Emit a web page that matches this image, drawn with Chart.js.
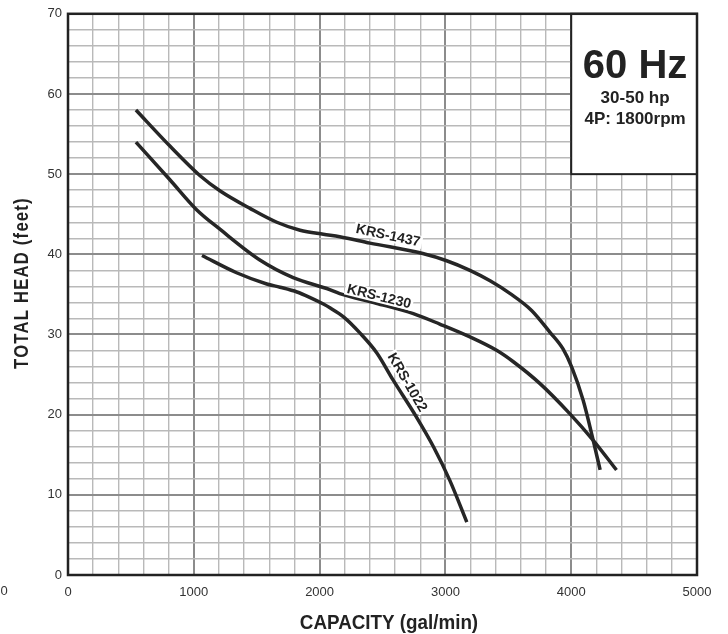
<!DOCTYPE html>
<html>
<head>
<meta charset="utf-8">
<script src="https://cdn.jsdelivr.net/npm/chart.js@4"></script>
<style>
  html, body { margin: 0; padding: 0; background: #fff; }
  #wrap { width: 728px; height: 634px; }
</style>
</head>
<body>
<div id="wrap"><canvas id="pumpChart" width="728" height="634"></canvas></div>
<script>
// curve data (capacity gal/min, head feet)
const krs1437X = [540, 810, 1050, 1210, 1450, 1660, 1845, 2030, 2160, 2400, 2820, 3010, 3195, 3355, 3515, 3685, 3830, 3935, 4005, 4095, 4175, 4230];
const krs1437Y = [58.0, 53.5, 49.8, 47.9, 45.7, 44.0, 43.0, 42.5, 42.2, 41.4, 40.1, 39.2, 38.0, 36.7, 35.1, 33.0, 30.3, 28.2, 25.9, 21.8, 16.8, 13.1];

const krs1230X = [540, 810, 1020, 1210, 1525, 1790, 2080, 2160, 2450, 2745, 2955, 3195, 3410, 3540, 3750, 3990, 4175, 4360];
const krs1230Y = [54.0, 49.3, 45.6, 43.1, 39.3, 37.1, 35.6, 35.1, 33.9, 32.6, 31.3, 29.7, 28.0, 26.6, 23.9, 20.1, 16.8, 13.1];

const krs1022X = [1065, 1340, 1580, 1685, 1820, 1925, 2030, 2085, 2190, 2320, 2455, 2585, 2770, 2905, 3035, 3170];
const krs1022Y = [39.85, 37.7, 36.3, 35.9, 35.3, 34.6, 33.8, 33.3, 32.2, 30.2, 27.7, 24.3, 19.7, 16.0, 11.8, 6.6];

const seriesNames = ['KRS-1437', 'KRS-1230', 'KRS-1022'];
const xTicks = [0, 1000, 2000, 3000, 4000, 5000];
const yTicks = [0, 10, 20, 30, 40, 50, 60, 70];

const boxTitle = '60 Hz';
const boxLines = ['30-50 hp', '4P: 1800rpm'];
const xTitle = 'CAPACITY (gal/min)';
const yTitle = 'TOTAL HEAD (feet)';

function toPoints(xs, ys) {
  return xs.map((x, i) => ({x: x, y: ys[i]}));
}

const lineColor = '#262626';

// label placements for the curve names: data position + angle (deg)
const curveLabels = [
  {text: seriesNames[0], x: 2544, y: 42.3, angle: 12},
  {text: seriesNames[1], x: 2472, y: 34.7, angle: 14},
  {text: seriesNames[2], x: 2695, y: 24.0, angle: 60}
];

const sansFont = '"Liberation Sans", Arial, sans-serif';

// draws text squeezed horizontally to fake a condensed face
function condensedText(ctx, text, x, y, squeeze) {
  ctx.save();
  ctx.translate(x, y);
  ctx.scale(squeeze, 1);
  ctx.fillText(text, 0, 0);
  ctx.restore();
}

const decorPlugin = {
  id: 'decor',
  beforeDatasetsDraw(chart) {
    const ctx = chart.ctx;
    const xs = chart.scales.x, ys = chart.scales.y;
    // info box in the top right corner
    const l = xs.getPixelForValue(4000), r = xs.getPixelForValue(5000);
    const t = ys.getPixelForValue(70), b = ys.getPixelForValue(50);
    ctx.save();
    ctx.fillStyle = '#fff';
    ctx.fillRect(l, t, r - l, b - t);
    ctx.strokeStyle = '#222';
    ctx.lineWidth = 2;
    ctx.strokeRect(l, t, r - l, b - t);
    ctx.fillStyle = '#222';
    ctx.textAlign = 'center';
    ctx.textBaseline = 'alphabetic';
    const cx = (l + r) / 2 + 1;
    ctx.font = 'bold 40px ' + sansFont;
    ctx.fillText(boxTitle, cx, t + 64);
    ctx.font = 'bold 17px ' + sansFont;
    ctx.fillText(boxLines[0], cx, t + 89);
    ctx.fillText(boxLines[1], cx, t + 110);
    ctx.restore();
  },
  afterDatasetsDraw(chart) {
    const ctx = chart.ctx;
    const xs = chart.scales.x, ys = chart.scales.y;
    const area = chart.chartArea;
    ctx.save();
    // curve name labels
    ctx.font = 'bold 14px ' + sansFont;
    ctx.textAlign = 'center';
    ctx.textBaseline = 'middle';
    curveLabels.forEach(lb => {
      const px = xs.getPixelForValue(lb.x), py = ys.getPixelForValue(lb.y);
      const w = ctx.measureText(lb.text).width;
      ctx.save();
      ctx.translate(px, py);
      ctx.rotate(lb.angle * Math.PI / 180);
      ctx.fillStyle = '#fff';
      ctx.fillRect(-w / 2 - 2, -7, w + 4, 13);
      ctx.fillStyle = '#222';
      ctx.fillText(lb.text, 0, 0);
      ctx.restore();
    });
    // frame
    ctx.strokeStyle = '#222';
    ctx.lineWidth = 2.5;
    ctx.strokeRect(area.left, area.top, area.right - area.left, area.bottom - area.top);
    // stray zero in the tick row at far left
    ctx.font = '13px ' + sansFont;
    ctx.fillStyle = '#333';
    ctx.textAlign = 'center';
    ctx.textBaseline = 'middle';
    ctx.fillText('0', 4, 591);
    // axis titles
    ctx.fillStyle = '#222';
    ctx.font = 'bold 20px ' + sansFont;
    ctx.textBaseline = 'alphabetic';
    condensedText(ctx, xTitle, 389, 629, 0.94);
    ctx.translate(28, 283);
    ctx.rotate(-Math.PI / 2);
    ctx.letterSpacing = '1.5px';
    condensedText(ctx, yTitle, 0, 0, 0.83);
    ctx.restore();
  }
};

const gridMajor = '#8c8c8c';
const gridMinor = '#b9b9b9';

new Chart(document.getElementById('pumpChart'), {
  type: 'line',
  data: {
    datasets: [
      {label: seriesNames[0], data: toPoints(krs1437X, krs1437Y)},
      {label: seriesNames[1], data: toPoints(krs1230X, krs1230Y)},
      {label: seriesNames[2], data: toPoints(krs1022X, krs1022Y)}
    ].map(d => Object.assign(d, {
      borderColor: lineColor,
      borderWidth: 3.5,
      pointRadius: 0,
      cubicInterpolationMode: 'monotone',
      fill: false
    }))
  },
  options: {
    responsive: false,
    animation: false,
    devicePixelRatio: 1,
    layout: {padding: {left: 0, right: 31, top: 13, bottom: 0}},
    plugins: {legend: {display: false}, tooltip: {enabled: false}},
    scales: {
      x: {
        type: 'linear',
        min: 0, max: 5000,
        afterFit: s => { s.height = 59; },
        ticks: {
          stepSize: 200,
          autoSkip: false,
          maxRotation: 0,
          padding: 10,
          color: '#333',
          font: {family: sansFont, size: 13},
          callback: v => xTicks.includes(v) ? String(v) : ''
        },
        grid: {
          color: c => (c.tick && c.tick.value % 1000 === 0) ? gridMajor : gridMinor,
          lineWidth: c => (c.tick && c.tick.value % 1000 === 0) ? 2 : 1.4,
          drawTicks: false
        },
        border: {display: false}
      },
      y: {
        min: 0, max: 70,
        afterFit: s => { s.width = 68; },
        ticks: {
          stepSize: 2,
          autoSkip: false,
          padding: 6,
          color: '#333',
          font: {family: sansFont, size: 13},
          callback: v => yTicks.includes(v) ? String(v) : ''
        },
        grid: {
          color: c => (c.tick && c.tick.value % 10 === 0) ? gridMajor : gridMinor,
          lineWidth: c => (c.tick && c.tick.value % 10 === 0) ? 2 : 1.4,
          drawTicks: false
        },
        border: {display: false}
      }
    }
  },
  plugins: [decorPlugin]
});
</script>
</body>
</html>
